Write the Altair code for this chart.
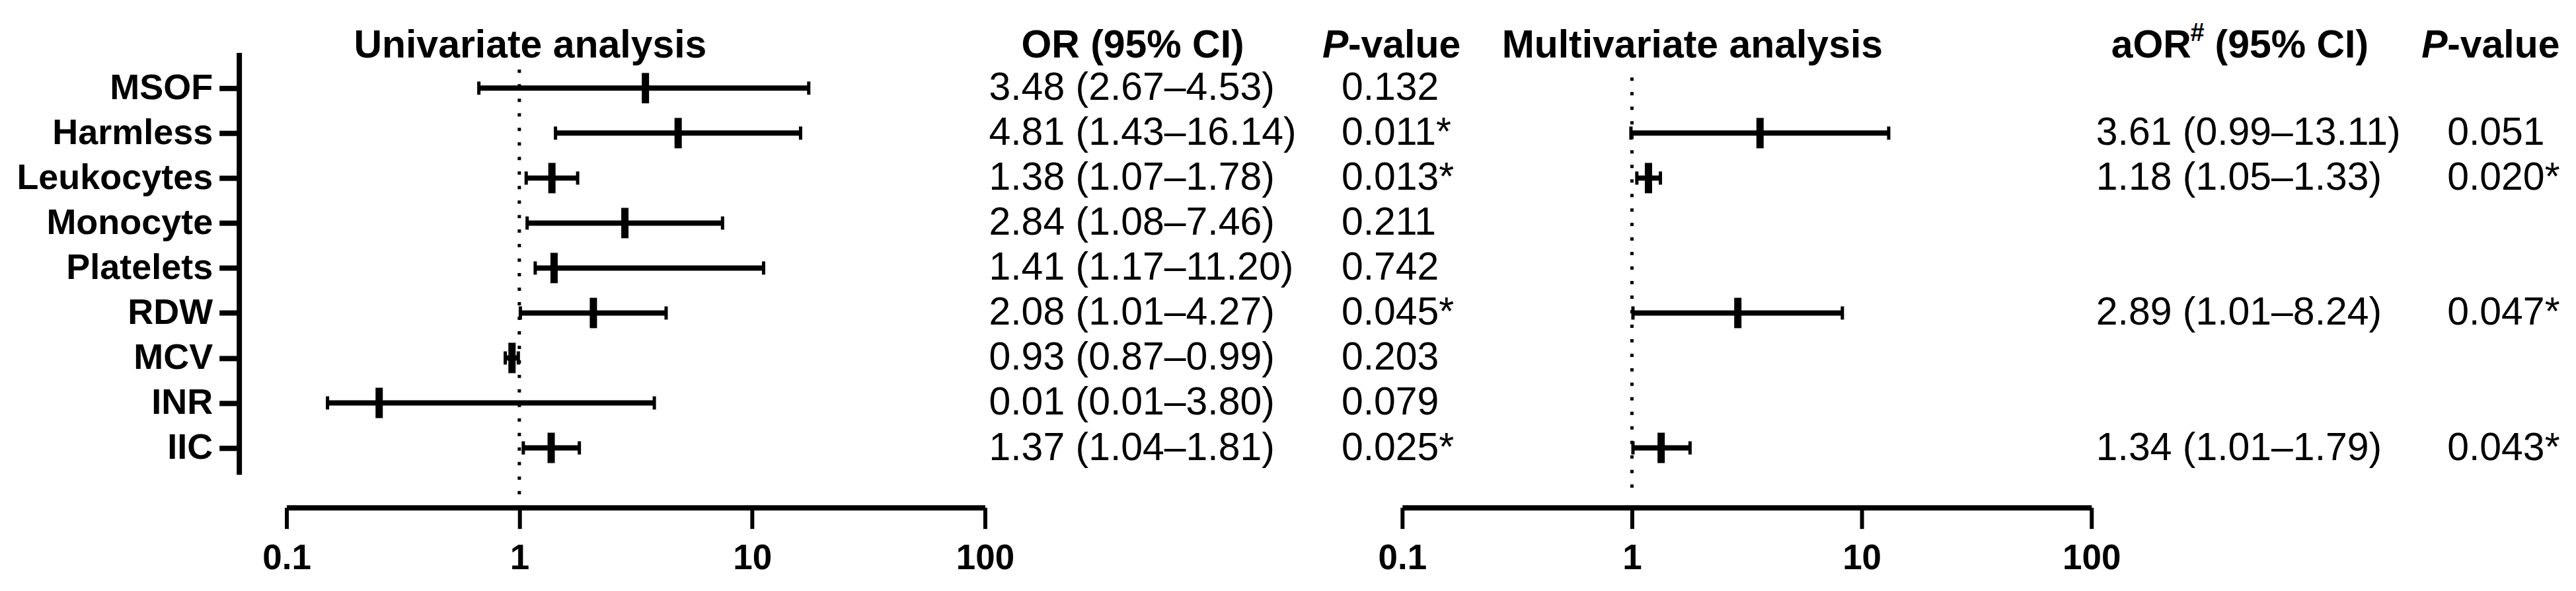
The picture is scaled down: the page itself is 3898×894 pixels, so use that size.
import altair as alt
import pandas as pd

FONT = "Liberation Sans, Arial, Helvetica, sans-serif"

# ---------------- data ----------------
categories = ["MSOF", "Harmless", "Leukocytes", "Monocyte", "Platelets",
              "RDW", "MCV", "INR", "IIC"]

# univariate (values as drawn)
uni_or = [3.48, 4.81, 1.38, 2.84, 1.41, 2.08, 0.93, 0.25, 1.37]
uni_lo = [0.67, 1.43, 1.07, 1.08, 1.17, 1.01, 0.87, 0.15, 1.04]
uni_hi = [17.5, 16.14, 1.78, 7.46, 11.20, 4.27, 0.99, 3.80, 1.81]
uni_txt = ["3.48 (2.67–4.53)", "4.81 (1.43–16.14)", "1.38 (1.07–1.78)",
           "2.84 (1.08–7.46)", "1.41 (1.17–11.20)", "2.08 (1.01–4.27)",
           "0.93 (0.87–0.99)", "0.01 (0.01–3.80)", "1.37 (1.04–1.81)"]
uni_p = ["0.132", "0.011*", "0.013*", "0.211", "0.742", "0.045*",
         "0.203", "0.079", "0.025*"]

# multivariate
multi_cat = ["Harmless", "Leukocytes", "RDW", "IIC"]
multi_or = [3.61, 1.18, 2.89, 1.34]
multi_lo = [0.99, 1.05, 1.01, 1.01]
multi_hi = [13.11, 1.33, 8.24, 1.79]
multi_txt = ["3.61 (0.99–13.11)", "1.18 (1.05–1.33)",
             "2.89 (1.01–8.24)", "1.34 (1.01–1.79)"]
multi_p = ["0.051", "0.020*", "0.047*", "0.043*"]

x_ticks = [0.1, 1, 10, 100]
ref_value = [1]

left_df = pd.DataFrame({"cat": categories, "or": uni_or, "lo": uni_lo,
                        "hi": uni_hi, "txt": uni_txt, "p": uni_p})
right_df = pd.DataFrame({"cat": multi_cat, "or": multi_or, "lo": multi_lo,
                         "hi": multi_hi, "txt": multi_txt, "p": multi_p})
ref_df = pd.DataFrame({"ref": ref_value})
one = alt.Data(values=[{"k": 0}])

# ---------------- encodings ----------------
yenc = alt.Y(
    "cat:N",
    scale=alt.Scale(type="point", domain=categories, padding=0.692, align=0.573),
    axis=alt.Axis(title=None, offset=72, domainWidth=8, domainColor="black",
                  tickSize=30, tickWidth=8, tickColor="black",
                  labelFont=FONT, labelFontSize=54, labelFontWeight="bold",
                  labelColor="black", labelPadding=10, labelLimit=600,
                  grid=False),
)

xaxis = alt.Axis(title=None, orient="bottom", offset=50, values=x_ticks,
                 format="~g", domainWidth=8, domainColor="black",
                 tickSize=32, tickWidth=6, tickColor="black",
                 labelFont=FONT, labelFontSize=53, labelFontWeight="bold",
                 labelColor="black", labelPadding=19, grid=False,
                 labelFlush=False, labelOverlap=False)

xs_left = alt.Scale(type="log", domain=[0.1, 100], range=[0, 1058], nice=False)
xs_right = alt.Scale(type="log", domain=[0.1, 100], range=[1690, 2734], nice=False)


def forest(df, xs, dot_y, dot_y2):
    dotted = alt.Chart(ref_df).mark_rule(
        strokeDash=[5, 17], strokeWidth=5, color="black"
    ).encode(x=alt.X("ref:Q", scale=xs, axis=xaxis),
             y=alt.value(dot_y), y2=alt.value(dot_y2))
    whisk = alt.Chart(df).mark_rule(strokeWidth=8, color="black").encode(
        x=alt.X("lo:Q", scale=xs, axis=xaxis), x2="hi:Q", y=yenc)
    cap_lo = alt.Chart(df).mark_tick(thickness=5, size=20, color="black", opacity=1).encode(
        x=alt.X("lo:Q", scale=xs, axis=xaxis), y=yenc)
    cap_hi = alt.Chart(df).mark_tick(thickness=5, size=20, color="black", opacity=1).encode(
        x=alt.X("hi:Q", scale=xs, axis=xaxis), y=yenc)
    pts = alt.Chart(df).mark_tick(thickness=11, size=46, color="black", opacity=1).encode(
        x=alt.X("or:Q", scale=xs, axis=xaxis), y=yenc)
    return [dotted, whisk, cap_lo, cap_hi, pts]


def col_text(df, field, xpos):
    return alt.Chart(df).mark_text(
        align="left", baseline="middle", font=FONT, fontSize=59, color="black"
    ).encode(x=alt.value(xpos), y=yenc, text=f"{field}:N")


def label(text, xpos, ypos, size=59, style="normal"):
    return alt.Chart(one).mark_text(
        text=text, align="left", baseline="alphabetic", font=FONT,
        fontSize=size, fontWeight="bold", fontStyle=style, color="black"
    ).encode(x=alt.value(xpos), y=alt.value(ypos))


left = alt.layer(
    *forest(left_df, xs_left, 26, 680),
    col_text(left_df, "txt", 1064),
    col_text(left_df, "p", 1598),
    label("Univariate analysis", 102, 8),
    label("OR (95% CI)", 1113, 8),
    label("P", 1569, 8, style="italic"),
    label("-value", 1608, 8),
)

right = alt.layer(
    *forest(right_df, xs_right, 38, 670),
    col_text(right_df, "txt", 2741),
    col_text(right_df, "p", 3273),
    label("Multivariate analysis", 1841, 8),
    label("aOR", 2764, 8),
    label("#", 2884, -17, size=38),
    label("(95% CI)", 2921, 8),
    label("P", 3234, 8, style="italic"),
    label("-value", 3273, 8),
)

chart = alt.layer(left, right).resolve_scale(x="independent").properties(
    width=3440, height=639,
    autosize=alt.AutoSizeParams(type="none"),
    padding={"left": 426, "top": 71, "right": 20, "bottom": 175},
).configure_view(stroke=None)

chart.save("out.html", embed_options={"renderer": "svg", "actions": False})
